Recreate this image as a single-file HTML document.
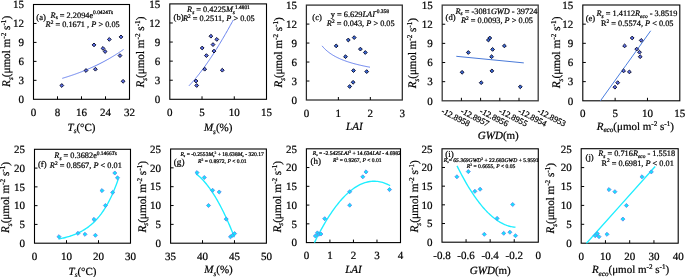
<!DOCTYPE html><html><head><meta charset="utf-8"><style>html,body{margin:0;padding:0;background:#fff;}svg{display:block;will-change:transform;}text{font-family:"Liberation Serif", serif;text-rendering:geometricPrecision;stroke:#000;stroke-width:0.22px;}</style></head><body>
<svg width="685" height="277" viewBox="0 0 685 277">
<rect width="685" height="277" fill="#fff"/>
<rect x="33.50" y="4.50" width="96.00" height="94.80" fill="none" stroke="#000" stroke-width="1.1"/>
<text x="24.00" y="103.10" font-size="11" text-anchor="end" fill="#000" ><tspan>0</tspan></text>
<line x1="33.50" y1="80.34" x2="36.50" y2="80.34" stroke="#000" stroke-width="1"/>
<text x="24.00" y="84.14" font-size="11" text-anchor="end" fill="#000" ><tspan>3</tspan></text>
<line x1="33.50" y1="61.38" x2="36.50" y2="61.38" stroke="#000" stroke-width="1"/>
<text x="24.00" y="65.18" font-size="11" text-anchor="end" fill="#000" ><tspan>6</tspan></text>
<line x1="33.50" y1="42.42" x2="36.50" y2="42.42" stroke="#000" stroke-width="1"/>
<text x="24.00" y="46.22" font-size="11" text-anchor="end" fill="#000" ><tspan>9</tspan></text>
<line x1="33.50" y1="23.46" x2="36.50" y2="23.46" stroke="#000" stroke-width="1"/>
<text x="24.00" y="27.26" font-size="11" text-anchor="end" fill="#000" ><tspan>12</tspan></text>
<text x="24.00" y="8.30" font-size="11" text-anchor="end" fill="#000" ><tspan>15</tspan></text>
<text x="33.50" y="115.80" font-size="11" text-anchor="middle" fill="#000" ><tspan>0</tspan></text>
<line x1="57.50" y1="99.30" x2="57.50" y2="96.30" stroke="#000" stroke-width="1"/>
<text x="57.50" y="115.80" font-size="11" text-anchor="middle" fill="#000" ><tspan>8</tspan></text>
<line x1="81.50" y1="99.30" x2="81.50" y2="96.30" stroke="#000" stroke-width="1"/>
<text x="81.50" y="115.80" font-size="11" text-anchor="middle" fill="#000" ><tspan>16</tspan></text>
<line x1="105.50" y1="99.30" x2="105.50" y2="96.30" stroke="#000" stroke-width="1"/>
<text x="105.50" y="115.80" font-size="11" text-anchor="middle" fill="#000" ><tspan>24</tspan></text>
<text x="129.50" y="115.80" font-size="11" text-anchor="middle" fill="#000" ><tspan>32</tspan></text>
<text x="10.10" y="86.90" font-size="11.5" text-anchor="start" fill="#000" transform="rotate(-90 10.10 86.90)" textLength="71.1" lengthAdjust="spacingAndGlyphs" ><tspan font-style="italic">R</tspan><tspan dy="2.53" font-style="italic" font-size="7.48">s</tspan><tspan dy="-2.53">(μmol&#160;m</tspan><tspan dy="-4.37" font-size="7.48">-2</tspan><tspan dy="4.37">&#160;s</tspan><tspan dy="-4.37" font-size="7.48">-1</tspan><tspan dy="4.37">)</tspan></text>
<rect x="169.80" y="3.90" width="96.70" height="95.40" fill="none" stroke="#000" stroke-width="1.1"/>
<text x="160.30" y="103.10" font-size="11" text-anchor="end" fill="#000" ><tspan>0</tspan></text>
<line x1="169.80" y1="80.22" x2="172.80" y2="80.22" stroke="#000" stroke-width="1"/>
<text x="160.30" y="84.02" font-size="11" text-anchor="end" fill="#000" ><tspan>3</tspan></text>
<line x1="169.80" y1="61.14" x2="172.80" y2="61.14" stroke="#000" stroke-width="1"/>
<text x="160.30" y="64.94" font-size="11" text-anchor="end" fill="#000" ><tspan>6</tspan></text>
<line x1="169.80" y1="42.06" x2="172.80" y2="42.06" stroke="#000" stroke-width="1"/>
<text x="160.30" y="45.86" font-size="11" text-anchor="end" fill="#000" ><tspan>9</tspan></text>
<line x1="169.80" y1="22.98" x2="172.80" y2="22.98" stroke="#000" stroke-width="1"/>
<text x="160.30" y="26.78" font-size="11" text-anchor="end" fill="#000" ><tspan>12</tspan></text>
<text x="160.30" y="7.70" font-size="11" text-anchor="end" fill="#000" ><tspan>15</tspan></text>
<text x="169.80" y="115.80" font-size="11" text-anchor="middle" fill="#000" ><tspan>0</tspan></text>
<line x1="202.03" y1="99.30" x2="202.03" y2="96.30" stroke="#000" stroke-width="1"/>
<text x="202.03" y="115.80" font-size="11" text-anchor="middle" fill="#000" ><tspan>5</tspan></text>
<line x1="234.27" y1="99.30" x2="234.27" y2="96.30" stroke="#000" stroke-width="1"/>
<text x="234.27" y="115.80" font-size="11" text-anchor="middle" fill="#000" ><tspan>10</tspan></text>
<text x="266.50" y="115.80" font-size="11" text-anchor="middle" fill="#000" ><tspan>15</tspan></text>
<text x="144.50" y="87.60" font-size="11.5" text-anchor="start" fill="#000" transform="rotate(-90 144.50 87.60)" textLength="71.0" lengthAdjust="spacingAndGlyphs" ><tspan font-style="italic">R</tspan><tspan dy="2.53" font-style="italic" font-size="7.48">s</tspan><tspan dy="-2.53">(μmol&#160;m</tspan><tspan dy="-4.37" font-size="7.48">-2</tspan><tspan dy="4.37">&#160;s</tspan><tspan dy="-4.37" font-size="7.48">-1</tspan><tspan dy="4.37">)</tspan></text>
<rect x="306.40" y="5.10" width="95.90" height="94.90" fill="none" stroke="#2a2a2a" stroke-width="1.25"/>
<text x="296.90" y="103.80" font-size="11" text-anchor="end" fill="#000" ><tspan>0</tspan></text>
<line x1="306.40" y1="81.02" x2="309.40" y2="81.02" stroke="#000" stroke-width="1"/>
<text x="296.90" y="84.82" font-size="11" text-anchor="end" fill="#000" ><tspan>3</tspan></text>
<line x1="306.40" y1="62.04" x2="309.40" y2="62.04" stroke="#000" stroke-width="1"/>
<text x="296.90" y="65.84" font-size="11" text-anchor="end" fill="#000" ><tspan>6</tspan></text>
<line x1="306.40" y1="43.06" x2="309.40" y2="43.06" stroke="#000" stroke-width="1"/>
<text x="296.90" y="46.86" font-size="11" text-anchor="end" fill="#000" ><tspan>9</tspan></text>
<line x1="306.40" y1="24.08" x2="309.40" y2="24.08" stroke="#000" stroke-width="1"/>
<text x="296.90" y="27.88" font-size="11" text-anchor="end" fill="#000" ><tspan>12</tspan></text>
<text x="296.90" y="8.90" font-size="11" text-anchor="end" fill="#000" ><tspan>15</tspan></text>
<text x="306.40" y="116.50" font-size="11" text-anchor="middle" fill="#000" ><tspan>0</tspan></text>
<line x1="338.37" y1="100.00" x2="338.37" y2="97.00" stroke="#000" stroke-width="1"/>
<text x="338.37" y="116.50" font-size="11" text-anchor="middle" fill="#000" ><tspan>1</tspan></text>
<line x1="370.33" y1="100.00" x2="370.33" y2="97.00" stroke="#000" stroke-width="1"/>
<text x="370.33" y="116.50" font-size="11" text-anchor="middle" fill="#000" ><tspan>2</tspan></text>
<text x="402.30" y="116.50" font-size="11" text-anchor="middle" fill="#000" ><tspan>3</tspan></text>
<text x="282.00" y="87.60" font-size="11.5" text-anchor="start" fill="#000" transform="rotate(-90 282.00 87.60)" textLength="70.3" lengthAdjust="spacingAndGlyphs" ><tspan font-style="italic">R</tspan><tspan dy="2.53" font-style="italic" font-size="7.48">s</tspan><tspan dy="-2.53">(μmol&#160;m</tspan><tspan dy="-4.37" font-size="7.48">-2</tspan><tspan dy="4.37">&#160;s</tspan><tspan dy="-4.37" font-size="7.48">-1</tspan><tspan dy="4.37">)</tspan></text>
<rect x="442.20" y="5.10" width="96.00" height="95.70" fill="none" stroke="#3a3a3a" stroke-width="1.3"/>
<text x="432.70" y="104.60" font-size="11" text-anchor="end" fill="#000" ><tspan>0</tspan></text>
<line x1="442.20" y1="81.66" x2="445.20" y2="81.66" stroke="#000" stroke-width="1"/>
<text x="432.70" y="85.46" font-size="11" text-anchor="end" fill="#000" ><tspan>3</tspan></text>
<line x1="442.20" y1="62.52" x2="445.20" y2="62.52" stroke="#000" stroke-width="1"/>
<text x="432.70" y="66.32" font-size="11" text-anchor="end" fill="#000" ><tspan>6</tspan></text>
<line x1="442.20" y1="43.38" x2="445.20" y2="43.38" stroke="#000" stroke-width="1"/>
<text x="432.70" y="47.18" font-size="11" text-anchor="end" fill="#000" ><tspan>9</tspan></text>
<line x1="442.20" y1="24.24" x2="445.20" y2="24.24" stroke="#000" stroke-width="1"/>
<text x="432.70" y="28.04" font-size="11" text-anchor="end" fill="#000" ><tspan>12</tspan></text>
<text x="432.70" y="8.90" font-size="11" text-anchor="end" fill="#000" ><tspan>15</tspan></text>
<line x1="461.40" y1="100.80" x2="461.40" y2="97.80" stroke="#000" stroke-width="1"/>
<line x1="480.60" y1="100.80" x2="480.60" y2="97.80" stroke="#000" stroke-width="1"/>
<line x1="499.80" y1="100.80" x2="499.80" y2="97.80" stroke="#000" stroke-width="1"/>
<line x1="519.00" y1="100.80" x2="519.00" y2="97.80" stroke="#000" stroke-width="1"/>
<text x="416.50" y="88.30" font-size="11.5" text-anchor="start" fill="#000" transform="rotate(-90 416.50 88.30)" textLength="70.3" lengthAdjust="spacingAndGlyphs" ><tspan font-style="italic">R</tspan><tspan dy="2.53" font-style="italic" font-size="7.48">s</tspan><tspan dy="-2.53">(μmol&#160;m</tspan><tspan dy="-4.37" font-size="7.48">-2</tspan><tspan dy="4.37">&#160;s</tspan><tspan dy="-4.37" font-size="7.48">-1</tspan><tspan dy="4.37">)</tspan></text>
<rect x="582.80" y="5.00" width="97.00" height="95.80" fill="none" stroke="#000" stroke-width="1.1"/>
<text x="573.30" y="104.60" font-size="11" text-anchor="end" fill="#000" ><tspan>0</tspan></text>
<line x1="582.80" y1="81.64" x2="585.80" y2="81.64" stroke="#000" stroke-width="1"/>
<text x="573.30" y="85.44" font-size="11" text-anchor="end" fill="#000" ><tspan>3</tspan></text>
<line x1="582.80" y1="62.48" x2="585.80" y2="62.48" stroke="#000" stroke-width="1"/>
<text x="573.30" y="66.28" font-size="11" text-anchor="end" fill="#000" ><tspan>6</tspan></text>
<line x1="582.80" y1="43.32" x2="585.80" y2="43.32" stroke="#000" stroke-width="1"/>
<text x="573.30" y="47.12" font-size="11" text-anchor="end" fill="#000" ><tspan>9</tspan></text>
<line x1="582.80" y1="24.16" x2="585.80" y2="24.16" stroke="#000" stroke-width="1"/>
<text x="573.30" y="27.96" font-size="11" text-anchor="end" fill="#000" ><tspan>12</tspan></text>
<text x="573.30" y="8.80" font-size="11" text-anchor="end" fill="#000" ><tspan>15</tspan></text>
<text x="582.80" y="117.30" font-size="11" text-anchor="middle" fill="#000" ><tspan>0</tspan></text>
<line x1="615.13" y1="100.80" x2="615.13" y2="97.80" stroke="#000" stroke-width="1"/>
<text x="615.13" y="117.30" font-size="11" text-anchor="middle" fill="#000" ><tspan>5</tspan></text>
<line x1="647.47" y1="100.80" x2="647.47" y2="97.80" stroke="#000" stroke-width="1"/>
<text x="647.47" y="117.30" font-size="11" text-anchor="middle" fill="#000" ><tspan>10</tspan></text>
<text x="679.80" y="117.30" font-size="11" text-anchor="middle" fill="#000" ><tspan>15</tspan></text>
<text x="560.20" y="88.30" font-size="11.5" text-anchor="start" fill="#000" transform="rotate(-90 560.20 88.30)" textLength="71.7" lengthAdjust="spacingAndGlyphs" ><tspan font-style="italic">R</tspan><tspan dy="2.53" font-style="italic" font-size="7.48">s</tspan><tspan dy="-2.53">(μmol&#160;m</tspan><tspan dy="-4.37" font-size="7.48">-2</tspan><tspan dy="4.37">&#160;s</tspan><tspan dy="-4.37" font-size="7.48">-1</tspan><tspan dy="4.37">)</tspan></text>
<rect x="34.50" y="149.30" width="96.00" height="93.90" fill="none" stroke="#000" stroke-width="1.1"/>
<text x="25.00" y="247.00" font-size="11" text-anchor="end" fill="#000" ><tspan>0</tspan></text>
<line x1="34.50" y1="224.42" x2="37.50" y2="224.42" stroke="#000" stroke-width="1"/>
<text x="25.00" y="228.22" font-size="11" text-anchor="end" fill="#000" ><tspan>5</tspan></text>
<line x1="34.50" y1="205.64" x2="37.50" y2="205.64" stroke="#000" stroke-width="1"/>
<text x="25.00" y="209.44" font-size="11" text-anchor="end" fill="#000" ><tspan>10</tspan></text>
<line x1="34.50" y1="186.86" x2="37.50" y2="186.86" stroke="#000" stroke-width="1"/>
<text x="25.00" y="190.66" font-size="11" text-anchor="end" fill="#000" ><tspan>15</tspan></text>
<line x1="34.50" y1="168.08" x2="37.50" y2="168.08" stroke="#000" stroke-width="1"/>
<text x="25.00" y="171.88" font-size="11" text-anchor="end" fill="#000" ><tspan>20</tspan></text>
<text x="25.00" y="153.10" font-size="11" text-anchor="end" fill="#000" ><tspan>25</tspan></text>
<text x="34.50" y="259.70" font-size="11" text-anchor="middle" fill="#000" ><tspan>0</tspan></text>
<line x1="66.50" y1="243.20" x2="66.50" y2="240.20" stroke="#000" stroke-width="1"/>
<text x="66.50" y="259.70" font-size="11" text-anchor="middle" fill="#000" ><tspan>10</tspan></text>
<line x1="98.50" y1="243.20" x2="98.50" y2="240.20" stroke="#000" stroke-width="1"/>
<text x="98.50" y="259.70" font-size="11" text-anchor="middle" fill="#000" ><tspan>20</tspan></text>
<text x="130.50" y="259.70" font-size="11" text-anchor="middle" fill="#000" ><tspan>30</tspan></text>
<text x="9.40" y="233.00" font-size="11.5" text-anchor="start" fill="#000" transform="rotate(-90 9.40 233.00)" textLength="71" lengthAdjust="spacingAndGlyphs" ><tspan font-style="italic">R</tspan><tspan dy="2.53" font-style="italic" font-size="7.48">s</tspan><tspan dy="-2.53">(μmol&#160;m</tspan><tspan dy="-4.37" font-size="7.48">-2</tspan><tspan dy="4.37">&#160;s</tspan><tspan dy="-4.37" font-size="7.48">-1</tspan><tspan dy="4.37">)</tspan></text>
<rect x="170.60" y="149.00" width="95.80" height="94.20" fill="none" stroke="#000" stroke-width="1.1"/>
<text x="161.10" y="247.00" font-size="11" text-anchor="end" fill="#000" ><tspan>0</tspan></text>
<line x1="170.60" y1="224.36" x2="173.60" y2="224.36" stroke="#000" stroke-width="1"/>
<text x="161.10" y="228.16" font-size="11" text-anchor="end" fill="#000" ><tspan>5</tspan></text>
<line x1="170.60" y1="205.52" x2="173.60" y2="205.52" stroke="#000" stroke-width="1"/>
<text x="161.10" y="209.32" font-size="11" text-anchor="end" fill="#000" ><tspan>10</tspan></text>
<line x1="170.60" y1="186.68" x2="173.60" y2="186.68" stroke="#000" stroke-width="1"/>
<text x="161.10" y="190.48" font-size="11" text-anchor="end" fill="#000" ><tspan>15</tspan></text>
<line x1="170.60" y1="167.84" x2="173.60" y2="167.84" stroke="#000" stroke-width="1"/>
<text x="161.10" y="171.64" font-size="11" text-anchor="end" fill="#000" ><tspan>20</tspan></text>
<text x="161.10" y="152.80" font-size="11" text-anchor="end" fill="#000" ><tspan>25</tspan></text>
<text x="170.60" y="259.70" font-size="11" text-anchor="middle" fill="#000" ><tspan>35</tspan></text>
<line x1="202.53" y1="243.20" x2="202.53" y2="240.20" stroke="#000" stroke-width="1"/>
<text x="202.53" y="259.70" font-size="11" text-anchor="middle" fill="#000" ><tspan>40</tspan></text>
<line x1="234.47" y1="243.20" x2="234.47" y2="240.20" stroke="#000" stroke-width="1"/>
<text x="234.47" y="259.70" font-size="11" text-anchor="middle" fill="#000" ><tspan>45</tspan></text>
<text x="266.40" y="259.70" font-size="11" text-anchor="middle" fill="#000" ><tspan>50</tspan></text>
<text x="145.90" y="232.60" font-size="11.5" text-anchor="start" fill="#000" transform="rotate(-90 145.90 232.60)" textLength="71.7" lengthAdjust="spacingAndGlyphs" ><tspan font-style="italic">R</tspan><tspan dy="2.53" font-style="italic" font-size="7.48">s</tspan><tspan dy="-2.53">(μmol&#160;m</tspan><tspan dy="-4.37" font-size="7.48">-2</tspan><tspan dy="4.37">&#160;s</tspan><tspan dy="-4.37" font-size="7.48">-1</tspan><tspan dy="4.37">)</tspan></text>
<rect x="306.40" y="148.80" width="94.10" height="93.80" fill="none" stroke="#000" stroke-width="1.1"/>
<text x="296.90" y="246.40" font-size="11" text-anchor="end" fill="#000" ><tspan>0</tspan></text>
<line x1="306.40" y1="223.84" x2="309.40" y2="223.84" stroke="#000" stroke-width="1"/>
<text x="296.90" y="227.64" font-size="11" text-anchor="end" fill="#000" ><tspan>5</tspan></text>
<line x1="306.40" y1="205.08" x2="309.40" y2="205.08" stroke="#000" stroke-width="1"/>
<text x="296.90" y="208.88" font-size="11" text-anchor="end" fill="#000" ><tspan>10</tspan></text>
<line x1="306.40" y1="186.32" x2="309.40" y2="186.32" stroke="#000" stroke-width="1"/>
<text x="296.90" y="190.12" font-size="11" text-anchor="end" fill="#000" ><tspan>15</tspan></text>
<line x1="306.40" y1="167.56" x2="309.40" y2="167.56" stroke="#000" stroke-width="1"/>
<text x="296.90" y="171.36" font-size="11" text-anchor="end" fill="#000" ><tspan>20</tspan></text>
<text x="296.90" y="152.60" font-size="11" text-anchor="end" fill="#000" ><tspan>25</tspan></text>
<text x="306.40" y="259.10" font-size="11" text-anchor="middle" fill="#000" ><tspan>0</tspan></text>
<line x1="329.92" y1="242.60" x2="329.92" y2="239.60" stroke="#000" stroke-width="1"/>
<text x="329.92" y="259.10" font-size="11" text-anchor="middle" fill="#000" ><tspan>1</tspan></text>
<line x1="353.45" y1="242.60" x2="353.45" y2="239.60" stroke="#000" stroke-width="1"/>
<text x="353.45" y="259.10" font-size="11" text-anchor="middle" fill="#000" ><tspan>2</tspan></text>
<line x1="376.98" y1="242.60" x2="376.98" y2="239.60" stroke="#000" stroke-width="1"/>
<text x="376.98" y="259.10" font-size="11" text-anchor="middle" fill="#000" ><tspan>3</tspan></text>
<text x="400.50" y="259.10" font-size="11" text-anchor="middle" fill="#000" ><tspan>4</tspan></text>
<text x="280.90" y="232.60" font-size="11.5" text-anchor="start" fill="#000" transform="rotate(-90 280.90 232.60)" textLength="71.7" lengthAdjust="spacingAndGlyphs" ><tspan font-style="italic">R</tspan><tspan dy="2.53" font-style="italic" font-size="7.48">s</tspan><tspan dy="-2.53">(μmol&#160;m</tspan><tspan dy="-4.37" font-size="7.48">-2</tspan><tspan dy="4.37">&#160;s</tspan><tspan dy="-4.37" font-size="7.48">-1</tspan><tspan dy="4.37">)</tspan></text>
<rect x="442.00" y="148.80" width="96.30" height="93.40" fill="none" stroke="#000" stroke-width="1.1"/>
<text x="432.50" y="246.00" font-size="11" text-anchor="end" fill="#000" ><tspan>0</tspan></text>
<line x1="442.00" y1="223.52" x2="445.00" y2="223.52" stroke="#000" stroke-width="1"/>
<text x="432.50" y="227.32" font-size="11" text-anchor="end" fill="#000" ><tspan>5</tspan></text>
<line x1="442.00" y1="204.84" x2="445.00" y2="204.84" stroke="#000" stroke-width="1"/>
<text x="432.50" y="208.64" font-size="11" text-anchor="end" fill="#000" ><tspan>10</tspan></text>
<line x1="442.00" y1="186.16" x2="445.00" y2="186.16" stroke="#000" stroke-width="1"/>
<text x="432.50" y="189.96" font-size="11" text-anchor="end" fill="#000" ><tspan>15</tspan></text>
<line x1="442.00" y1="167.48" x2="445.00" y2="167.48" stroke="#000" stroke-width="1"/>
<text x="432.50" y="171.28" font-size="11" text-anchor="end" fill="#000" ><tspan>20</tspan></text>
<text x="432.50" y="152.60" font-size="11" text-anchor="end" fill="#000" ><tspan>25</tspan></text>
<text x="442.00" y="258.70" font-size="11" text-anchor="middle" fill="#000" ><tspan>-0.8</tspan></text>
<line x1="466.07" y1="242.20" x2="466.07" y2="239.20" stroke="#000" stroke-width="1"/>
<text x="466.07" y="258.70" font-size="11" text-anchor="middle" fill="#000" ><tspan>-0.6</tspan></text>
<line x1="490.15" y1="242.20" x2="490.15" y2="239.20" stroke="#000" stroke-width="1"/>
<text x="490.15" y="258.70" font-size="11" text-anchor="middle" fill="#000" ><tspan>-0.4</tspan></text>
<line x1="514.23" y1="242.20" x2="514.23" y2="239.20" stroke="#000" stroke-width="1"/>
<text x="514.23" y="258.70" font-size="11" text-anchor="middle" fill="#000" ><tspan>-0.2</tspan></text>
<text x="538.30" y="258.70" font-size="11" text-anchor="middle" fill="#000" ><tspan>0</tspan></text>
<text x="418.00" y="232.60" font-size="11.5" text-anchor="start" fill="#000" transform="rotate(-90 418.00 232.60)" textLength="72.5" lengthAdjust="spacingAndGlyphs" ><tspan font-style="italic">R</tspan><tspan dy="2.53" font-style="italic" font-size="7.48">s</tspan><tspan dy="-2.53">(μmol&#160;m</tspan><tspan dy="-4.37" font-size="7.48">-2</tspan><tspan dy="4.37">&#160;s</tspan><tspan dy="-4.37" font-size="7.48">-1</tspan><tspan dy="4.37">)</tspan></text>
<rect x="581.20" y="148.70" width="97.00" height="94.50" fill="none" stroke="#000" stroke-width="1.1"/>
<text x="571.70" y="247.00" font-size="11" text-anchor="end" fill="#000" ><tspan>0</tspan></text>
<line x1="581.20" y1="224.30" x2="584.20" y2="224.30" stroke="#000" stroke-width="1"/>
<text x="571.70" y="228.10" font-size="11" text-anchor="end" fill="#000" ><tspan>5</tspan></text>
<line x1="581.20" y1="205.40" x2="584.20" y2="205.40" stroke="#000" stroke-width="1"/>
<text x="571.70" y="209.20" font-size="11" text-anchor="end" fill="#000" ><tspan>10</tspan></text>
<line x1="581.20" y1="186.50" x2="584.20" y2="186.50" stroke="#000" stroke-width="1"/>
<text x="571.70" y="190.30" font-size="11" text-anchor="end" fill="#000" ><tspan>15</tspan></text>
<line x1="581.20" y1="167.60" x2="584.20" y2="167.60" stroke="#000" stroke-width="1"/>
<text x="571.70" y="171.40" font-size="11" text-anchor="end" fill="#000" ><tspan>20</tspan></text>
<text x="571.70" y="152.50" font-size="11" text-anchor="end" fill="#000" ><tspan>25</tspan></text>
<text x="581.20" y="259.70" font-size="11" text-anchor="middle" fill="#000" ><tspan>0</tspan></text>
<line x1="605.45" y1="243.20" x2="605.45" y2="240.20" stroke="#000" stroke-width="1"/>
<text x="605.45" y="259.70" font-size="11" text-anchor="middle" fill="#000" ><tspan>10</tspan></text>
<line x1="629.70" y1="243.20" x2="629.70" y2="240.20" stroke="#000" stroke-width="1"/>
<text x="629.70" y="259.70" font-size="11" text-anchor="middle" fill="#000" ><tspan>20</tspan></text>
<line x1="653.95" y1="243.20" x2="653.95" y2="240.20" stroke="#000" stroke-width="1"/>
<text x="653.95" y="259.70" font-size="11" text-anchor="middle" fill="#000" ><tspan>30</tspan></text>
<text x="678.20" y="259.70" font-size="11" text-anchor="middle" fill="#000" ><tspan>40</tspan></text>
<text x="554.40" y="233.60" font-size="11.5" text-anchor="start" fill="#000" transform="rotate(-90 554.40 233.60)" textLength="70.6" lengthAdjust="spacingAndGlyphs" ><tspan font-style="italic">R</tspan><tspan dy="2.53" font-style="italic" font-size="7.48">s</tspan><tspan dy="-2.53">(μmol&#160;m</tspan><tspan dy="-4.37" font-size="7.48">-2</tspan><tspan dy="4.37">&#160;s</tspan><tspan dy="-4.37" font-size="7.48">-1</tspan><tspan dy="4.37">)</tspan></text>
<polyline points="62.30,78.32 63.32,78.02 64.34,77.71 65.36,77.39 66.38,77.08 67.40,76.75 68.42,76.43 69.44,76.09 70.46,75.76 71.48,75.42 72.50,75.07 73.52,74.72 74.54,74.36 75.56,74.00 76.58,73.63 77.60,73.26 78.62,72.88 79.64,72.50 80.66,72.11 81.68,71.71 82.70,71.31 83.72,70.90 84.74,70.49 85.76,70.07 86.78,69.65 87.80,69.22 88.82,68.78 89.84,68.34 90.86,67.89 91.88,67.43 92.90,66.97 93.92,66.50 94.94,66.03 95.96,65.54 96.98,65.05 98.00,64.55 99.02,64.05 100.04,63.54 101.06,63.02 102.08,62.49 103.10,61.96 104.12,61.42 105.14,60.87 106.16,60.31 107.18,59.74 108.20,59.17 109.22,58.58 110.24,57.99 111.26,57.39 112.28,56.78 113.30,56.17 114.32,55.54 115.34,54.91 116.36,54.26 117.38,53.61 118.40,52.94 119.42,52.27 120.44,51.59 121.46,50.89 122.48,50.19 123.50,49.48" fill="none" stroke="#6680ee" stroke-width="1"/>
<path d="M61.80 83.60L63.70 85.50L61.80 87.40L59.90 85.50Z" fill="#5b6ee6" stroke="#121535" stroke-width="1.0"/>
<path d="M86.00 68.60L87.90 70.50L86.00 72.40L84.10 70.50Z" fill="#5b6ee6" stroke="#121535" stroke-width="1.0"/>
<path d="M95.40 67.30L97.30 69.20L95.40 71.10L93.50 69.20Z" fill="#5b6ee6" stroke="#121535" stroke-width="1.0"/>
<path d="M94.00 43.00L95.90 44.90L94.00 46.80L92.10 44.90Z" fill="#5b6ee6" stroke="#121535" stroke-width="1.0"/>
<path d="M103.00 46.50L104.90 48.40L103.00 50.30L101.10 48.40Z" fill="#5b6ee6" stroke="#121535" stroke-width="1.0"/>
<path d="M105.10 49.60L107.00 51.50L105.10 53.40L103.20 51.50Z" fill="#5b6ee6" stroke="#121535" stroke-width="1.0"/>
<path d="M109.30 37.50L111.20 39.40L109.30 41.30L107.40 39.40Z" fill="#5b6ee6" stroke="#121535" stroke-width="1.0"/>
<path d="M121.00 35.00L122.90 36.90L121.00 38.80L119.10 36.90Z" fill="#5b6ee6" stroke="#121535" stroke-width="1.0"/>
<path d="M120.00 53.70L121.90 55.60L120.00 57.50L118.10 55.60Z" fill="#5b6ee6" stroke="#121535" stroke-width="1.0"/>
<path d="M123.10 79.40L125.00 81.30L123.10 83.20L121.20 81.30Z" fill="#5b6ee6" stroke="#121535" stroke-width="1.0"/>
<text x="36.30" y="19.80" font-size="8.6" text-anchor="start" fill="#000" ><tspan>(a)</tspan></text>
<text x="50.60" y="17.60" font-size="8.3" text-anchor="start" fill="#000" ><tspan font-style="italic">R</tspan><tspan dy="1.83" font-size="5.40">s</tspan><tspan dy="-1.83">&#160;=&#160;2.2094e</tspan><tspan dy="-3.15" font-size="5.40">0.0424</tspan><tspan font-style="italic" font-size="5.40">T</tspan><tspan font-size="5.40">s</tspan></text>
<text x="45.60" y="27.10" font-size="8.3" text-anchor="start" fill="#000" ><tspan font-style="italic">R</tspan><tspan dy="-3.15" font-size="5.40">2</tspan><tspan dy="3.15">&#160;=&#160;0.1671&#160;,&#160;</tspan><tspan font-style="italic">P</tspan><tspan>&#160;&gt;&#160;0.05</tspan></text>
<text x="81.50" y="130.90" font-size="11" text-anchor="middle" fill="#000" ><tspan font-style="italic">T</tspan><tspan dy="2.42" font-style="italic" font-size="7.15">s</tspan><tspan dy="-2.42">(°C)</tspan></text>
<polyline points="188.95,85.84 189.68,85.07 190.42,84.28 191.16,83.47 191.90,82.66 192.64,81.83 193.38,80.99 194.11,80.13 194.85,79.26 195.59,78.38 196.33,77.49 197.07,76.59 197.80,75.67 198.54,74.74 199.28,73.81 200.02,72.85 200.76,71.89 201.50,70.92 202.23,69.94 202.97,68.94 203.71,67.94 204.45,66.92 205.19,65.90 205.92,64.86 206.66,63.81 207.40,62.76 208.14,61.69 208.88,60.61 209.61,59.53 210.35,58.43 211.09,57.32 211.83,56.21 212.57,55.08 213.31,53.95 214.04,52.80 214.78,51.65 215.52,50.49 216.26,49.32 217.00,48.14 217.73,46.95 218.47,45.75 219.21,44.55 219.95,43.33 220.69,42.11 221.42,40.88 222.16,39.64 222.90,38.39 223.64,37.13 224.38,35.86 225.12,34.59 225.85,33.31 226.59,32.02 227.33,30.72 228.07,29.41 228.81,28.10 229.54,26.78 230.28,25.45 231.02,24.11 231.76,22.76 232.50,21.41 233.24,20.05" fill="none" stroke="#6680ee" stroke-width="1"/>
<path d="M196.00 79.10L197.90 81.00L196.00 82.90L194.10 81.00Z" fill="#5b6ee6" stroke="#121535" stroke-width="1.0"/>
<path d="M196.70 83.60L198.60 85.50L196.70 87.40L194.80 85.50Z" fill="#5b6ee6" stroke="#121535" stroke-width="1.0"/>
<path d="M204.70 67.30L206.60 69.20L204.70 71.10L202.80 69.20Z" fill="#5b6ee6" stroke="#121535" stroke-width="1.0"/>
<path d="M202.20 46.10L204.10 48.00L202.20 49.90L200.30 48.00Z" fill="#5b6ee6" stroke="#121535" stroke-width="1.0"/>
<path d="M206.40 53.70L208.30 55.60L206.40 57.50L204.50 55.60Z" fill="#5b6ee6" stroke="#121535" stroke-width="1.0"/>
<path d="M210.90 34.30L212.80 36.20L210.90 38.10L209.00 36.20Z" fill="#5b6ee6" stroke="#121535" stroke-width="1.0"/>
<path d="M213.00 42.70L214.90 44.60L213.00 46.50L211.10 44.60Z" fill="#5b6ee6" stroke="#121535" stroke-width="1.0"/>
<path d="M216.80 37.50L218.70 39.40L216.80 41.30L214.90 39.40Z" fill="#5b6ee6" stroke="#121535" stroke-width="1.0"/>
<path d="M214.00 49.20L215.90 51.10L214.00 53.00L212.10 51.10Z" fill="#5b6ee6" stroke="#121535" stroke-width="1.0"/>
<path d="M222.30 68.30L224.20 70.20L222.30 72.10L220.40 70.20Z" fill="#5b6ee6" stroke="#121535" stroke-width="1.0"/>
<text x="187.10" y="12.10" font-size="8.3" text-anchor="start" fill="#000" ><tspan font-style="italic">R</tspan><tspan dy="1.83" font-style="italic" font-size="5.40">s</tspan><tspan dy="-1.83">&#160;=&#160;0.4225</tspan><tspan font-style="italic">M</tspan><tspan dy="1.83" font-style="italic" font-size="5.40">s</tspan><tspan dy="-4.98" font-size="5.40">1.4801</tspan></text>
<text x="173.60" y="19.60" font-size="8.6" text-anchor="start" fill="#000" ><tspan>(b)</tspan></text>
<text x="183.00" y="21.10" font-size="8.3" text-anchor="start" fill="#000" ><tspan font-style="italic">R</tspan><tspan dy="-3.15" font-size="5.40">2</tspan><tspan dy="3.15">&#160;=&#160;0.2511,&#160;</tspan><tspan font-style="italic">P</tspan><tspan>&#160;&gt;&#160;0.05</tspan></text>
<text x="218.15" y="131.30" font-size="11" text-anchor="middle" fill="#000" ><tspan font-style="italic">M</tspan><tspan dy="2.42" font-style="italic" font-size="7.15">s</tspan><tspan dy="-2.42">(%)</tspan></text>
<polyline points="322.06,45.86 322.86,46.81 323.66,47.71 324.46,48.55 325.26,49.34 326.06,50.09 326.86,50.79 327.66,51.47 328.46,52.10 329.26,52.71 330.06,53.29 330.85,53.84 331.65,54.37 332.45,54.87 333.25,55.36 334.05,55.83 334.85,56.27 335.65,56.71 336.45,57.12 337.25,57.52 338.05,57.91 338.85,58.28 339.65,58.65 340.44,59.00 341.24,59.33 342.04,59.66 342.84,59.98 343.64,60.29 344.44,60.59 345.24,60.88 346.04,61.17 346.84,61.45 347.64,61.71 348.44,61.98 349.24,62.23 350.03,62.48 350.83,62.72 351.63,62.96 352.43,63.19 353.23,63.42 354.03,63.64 354.83,63.86 355.63,64.07 356.43,64.27 357.23,64.48 358.03,64.67 358.83,64.87 359.62,65.06 360.42,65.24 361.22,65.43 362.02,65.60 362.82,65.78 363.62,65.95 364.42,66.12 365.22,66.29 366.02,66.45 366.82,66.61 367.62,66.76 368.42,66.92 369.21,67.07 370.01,67.22" fill="none" stroke="#6680ee" stroke-width="1"/>
<path d="M336.20 44.00L338.10 45.90L336.20 47.80L334.30 45.90Z" fill="#3a6ad8" stroke="#121535" stroke-width="1.0"/>
<path d="M348.30 38.10L350.20 40.00L348.30 41.90L346.40 40.00Z" fill="#3a6ad8" stroke="#121535" stroke-width="1.0"/>
<path d="M354.20 35.70L356.10 37.60L354.20 39.50L352.30 37.60Z" fill="#3a6ad8" stroke="#121535" stroke-width="1.0"/>
<path d="M360.40 47.20L362.30 49.10L360.40 51.00L358.50 49.10Z" fill="#3a6ad8" stroke="#121535" stroke-width="1.0"/>
<path d="M365.30 50.60L367.20 52.50L365.30 54.40L363.40 52.50Z" fill="#3a6ad8" stroke="#121535" stroke-width="1.0"/>
<path d="M345.50 54.80L347.40 56.70L345.50 58.60L343.60 56.70Z" fill="#3a6ad8" stroke="#121535" stroke-width="1.0"/>
<path d="M353.50 68.70L355.40 70.60L353.50 72.50L351.60 70.60Z" fill="#3a6ad8" stroke="#121535" stroke-width="1.0"/>
<path d="M366.70 69.70L368.60 71.60L366.70 73.50L364.80 71.60Z" fill="#3a6ad8" stroke="#121535" stroke-width="1.0"/>
<path d="M353.10 80.40L355.00 82.30L353.10 84.20L351.20 82.30Z" fill="#3a6ad8" stroke="#121535" stroke-width="1.0"/>
<path d="M349.70 84.60L351.60 86.50L349.70 88.40L347.80 86.50Z" fill="#3a6ad8" stroke="#121535" stroke-width="1.0"/>
<text x="312.30" y="19.60" font-size="8.6" text-anchor="start" fill="#000" ><tspan>(c)</tspan></text>
<text x="330.80" y="16.60" font-size="8.3" text-anchor="start" fill="#000" ><tspan>y&#160;=&#160;6.629</tspan><tspan font-style="italic">LAI</tspan><tspan dy="-3.15" font-size="5.40">-0.358</tspan></text>
<text x="326.80" y="26.10" font-size="8.3" text-anchor="start" fill="#000" ><tspan font-style="italic">R</tspan><tspan dy="-3.15" font-size="5.40">2</tspan><tspan dy="3.15">&#160;=&#160;0.043,&#160;</tspan><tspan font-style="italic">P</tspan><tspan>&#160;&gt;&#160;0.05</tspan></text>
<text x="354.35" y="130.40" font-size="11" text-anchor="middle" fill="#000" ><tspan font-style="italic">LAI</tspan></text>
<line x1="456.3" y1="56.3" x2="523.8" y2="62.9" stroke="#4a7ad8" stroke-width="1"/>
<path d="M462.10 70.40L464.00 72.30L462.10 74.20L460.20 72.30Z" fill="#3a6ad8" stroke="#121535" stroke-width="1.0"/>
<path d="M468.30 50.60L470.20 52.50L468.30 54.40L466.40 52.50Z" fill="#3a6ad8" stroke="#121535" stroke-width="1.0"/>
<path d="M481.20 80.80L483.10 82.70L481.20 84.60L479.30 82.70Z" fill="#3a6ad8" stroke="#121535" stroke-width="1.0"/>
<path d="M488.40 38.10L490.30 40.00L488.40 41.90L486.50 40.00Z" fill="#3a6ad8" stroke="#121535" stroke-width="1.0"/>
<path d="M489.80 36.10L491.70 38.00L489.80 39.90L487.90 38.00Z" fill="#3a6ad8" stroke="#121535" stroke-width="1.0"/>
<path d="M492.60 47.50L494.50 49.40L492.60 51.30L490.70 49.40Z" fill="#3a6ad8" stroke="#121535" stroke-width="1.0"/>
<path d="M491.60 54.80L493.50 56.70L491.60 58.60L489.70 56.70Z" fill="#3a6ad8" stroke="#121535" stroke-width="1.0"/>
<path d="M491.90 69.00L493.80 70.90L491.90 72.80L490.00 70.90Z" fill="#3a6ad8" stroke="#121535" stroke-width="1.0"/>
<path d="M504.40 44.00L506.30 45.90L504.40 47.80L502.50 45.90Z" fill="#3a6ad8" stroke="#121535" stroke-width="1.0"/>
<path d="M520.30 84.90L522.20 86.80L520.30 88.70L518.40 86.80Z" fill="#3a6ad8" stroke="#121535" stroke-width="1.0"/>
<text x="445.60" y="20.20" font-size="8.6" text-anchor="start" fill="#000" ><tspan>(d)</tspan></text>
<text x="455.50" y="13.50" font-size="8.3" text-anchor="start" fill="#000" ><tspan font-style="italic">R</tspan><tspan dy="1.83" font-style="italic" font-size="5.40">s</tspan><tspan dy="-1.83">&#160;=&#160;-3081</tspan><tspan font-style="italic">GWD</tspan><tspan>&#160;-&#160;39724</tspan></text>
<text x="461.00" y="23.40" font-size="8.3" text-anchor="start" fill="#000" ><tspan font-style="italic">R</tspan><tspan dy="-3.15" font-size="5.40">2</tspan><tspan dy="3.15">&#160;=&#160;0.0093,&#160;</tspan><tspan font-style="italic">P</tspan><tspan>&#160;&gt;&#160;0.05</tspan></text>
<text x="440.70" y="112.80" font-size="8.6" text-anchor="start" fill="#000" transform="rotate(27 440.70 112.80)" ><tspan>-12.8958</tspan></text>
<text x="459.90" y="112.80" font-size="8.6" text-anchor="start" fill="#000" transform="rotate(27 459.90 112.80)" ><tspan>-12.8957</tspan></text>
<text x="479.10" y="112.80" font-size="8.6" text-anchor="start" fill="#000" transform="rotate(27 479.10 112.80)" ><tspan>-12.8956</tspan></text>
<text x="498.30" y="112.80" font-size="8.6" text-anchor="start" fill="#000" transform="rotate(27 498.30 112.80)" ><tspan>-12.8955</tspan></text>
<text x="517.50" y="112.80" font-size="8.6" text-anchor="start" fill="#000" transform="rotate(27 517.50 112.80)" ><tspan>-12.8954</tspan></text>
<text x="536.70" y="112.80" font-size="8.6" text-anchor="start" fill="#000" transform="rotate(27 536.70 112.80)" ><tspan>-12.8953</tspan></text>
<text x="498.30" y="138.90" font-size="11" text-anchor="middle" fill="#000" ><tspan font-style="italic">GWD</tspan><tspan>(m)</tspan></text>
<polyline points="600.45,100.80 625.58,65.78 650.70,30.77" fill="none" stroke="#4a7ee0" stroke-width="1"/>
<path d="M614.90 85.30L616.80 87.20L614.90 89.10L613.00 87.20Z" fill="#5b6ee6" stroke="#121535" stroke-width="1.0"/>
<path d="M617.70 80.80L619.60 82.70L617.70 84.60L615.80 82.70Z" fill="#5b6ee6" stroke="#121535" stroke-width="1.0"/>
<path d="M623.60 69.00L625.50 70.90L623.60 72.80L621.70 70.90Z" fill="#5b6ee6" stroke="#121535" stroke-width="1.0"/>
<path d="M629.40 70.00L631.30 71.90L629.40 73.80L627.50 71.90Z" fill="#5b6ee6" stroke="#121535" stroke-width="1.0"/>
<path d="M624.60 44.00L626.50 45.90L624.60 47.80L622.70 45.90Z" fill="#5b6ee6" stroke="#121535" stroke-width="1.0"/>
<path d="M632.20 36.10L634.10 38.00L632.20 39.90L630.30 38.00Z" fill="#5b6ee6" stroke="#121535" stroke-width="1.0"/>
<path d="M636.70 47.20L638.60 49.10L636.70 51.00L634.80 49.10Z" fill="#5b6ee6" stroke="#121535" stroke-width="1.0"/>
<path d="M639.50 50.30L641.40 52.20L639.50 54.10L637.60 52.20Z" fill="#5b6ee6" stroke="#121535" stroke-width="1.0"/>
<path d="M640.20 54.80L642.10 56.70L640.20 58.60L638.30 56.70Z" fill="#5b6ee6" stroke="#121535" stroke-width="1.0"/>
<path d="M641.20 38.50L643.10 40.40L641.20 42.30L639.30 40.40Z" fill="#5b6ee6" stroke="#121535" stroke-width="1.0"/>
<text x="585.70" y="20.60" font-size="8.6" text-anchor="start" fill="#000" ><tspan>(e)</tspan></text>
<text x="596.50" y="15.70" font-size="8.3" text-anchor="start" fill="#000" ><tspan font-style="italic">R</tspan><tspan dy="1.83" font-style="italic" font-size="5.40">s</tspan><tspan dy="-1.83">&#160;=&#160;1.4112</tspan><tspan font-style="italic">R</tspan><tspan dy="1.83" font-style="italic" font-size="5.40">eco</tspan><tspan dy="-1.83">&#160;-&#160;3.8519</tspan></text>
<text x="601.00" y="25.70" font-size="8.3" text-anchor="start" fill="#000" ><tspan>R</tspan><tspan dy="-3.15" font-size="5.40">2</tspan><tspan dy="3.15">&#160;=&#160;0.5574,&#160;</tspan><tspan font-style="italic">P</tspan><tspan>&#160;&lt;&#160;0.05</tspan></text>
<text x="635.30" y="130.00" font-size="11" text-anchor="middle" fill="#000" ><tspan font-style="italic">R</tspan><tspan dy="2.42" font-style="italic" font-size="7.15">eco</tspan><tspan dy="-2.42">(μmol&#160;m</tspan><tspan dy="-4.18" font-size="7.15">-2</tspan><tspan dy="4.18">&#160;s</tspan><tspan dy="-4.18" font-size="7.15">-1</tspan><tspan dy="4.18">)</tspan></text>
<polyline points="58.50,239.05 59.50,238.85 60.49,238.65 61.49,238.44 62.49,238.21 63.49,237.98 64.48,237.74 65.48,237.48 66.48,237.22 67.48,236.94 68.47,236.64 69.47,236.34 70.47,236.01 71.47,235.68 72.46,235.33 73.46,234.96 74.46,234.57 75.45,234.17 76.45,233.75 77.45,233.31 78.45,232.84 79.44,232.36 80.44,231.85 81.44,231.32 82.44,230.77 83.43,230.19 84.43,229.58 85.43,228.94 86.43,228.27 87.42,227.58 88.42,226.85 89.42,226.08 90.41,225.28 91.41,224.44 92.41,223.57 93.41,222.65 94.40,221.69 95.40,220.68 96.40,219.63 97.40,218.53 98.39,217.38 99.39,216.17 100.39,214.90 101.39,213.58 102.38,212.20 103.38,210.75 104.38,209.23 105.37,207.64 106.37,205.98 107.37,204.24 108.37,202.42 109.36,200.51 110.36,198.52 111.36,196.43 112.36,194.24 113.35,191.95 114.35,189.56 115.35,187.05 116.35,184.42 117.34,181.67 118.34,178.80" fill="none" stroke="#1eeeff" stroke-width="1.35"/>
<path d="M59.00 234.65L61.05 236.70L59.00 238.75L56.95 236.70Z" fill="#10e6fc" stroke="#5a7cee" stroke-width="0.75"/>
<path d="M78.00 231.25L80.05 233.30L78.00 235.35L75.95 233.30Z" fill="#10e6fc" stroke="#5a7cee" stroke-width="0.75"/>
<path d="M85.00 232.25L87.05 234.30L85.00 236.35L82.95 234.30Z" fill="#10e6fc" stroke="#5a7cee" stroke-width="0.75"/>
<path d="M95.40 233.25L97.45 235.30L95.40 237.35L93.35 235.30Z" fill="#10e6fc" stroke="#5a7cee" stroke-width="0.75"/>
<path d="M94.00 217.35L96.05 219.40L94.00 221.45L91.95 219.40Z" fill="#10e6fc" stroke="#5a7cee" stroke-width="0.75"/>
<path d="M105.40 203.45L107.45 205.50L105.40 207.55L103.35 205.50Z" fill="#10e6fc" stroke="#5a7cee" stroke-width="0.75"/>
<path d="M102.00 188.55L104.05 190.60L102.00 192.65L99.95 190.60Z" fill="#10e6fc" stroke="#5a7cee" stroke-width="0.75"/>
<path d="M112.70 190.35L114.75 192.40L112.70 194.45L110.65 192.40Z" fill="#10e6fc" stroke="#5a7cee" stroke-width="0.75"/>
<path d="M114.80 170.95L116.85 173.00L114.80 175.05L112.75 173.00Z" fill="#10e6fc" stroke="#5a7cee" stroke-width="0.75"/>
<path d="M117.50 175.75L119.55 177.80L117.50 179.85L115.45 177.80Z" fill="#10e6fc" stroke="#5a7cee" stroke-width="0.75"/>
<text x="54.30" y="158.40" font-size="8.3" text-anchor="start" fill="#000" ><tspan font-style="italic">R</tspan><tspan dy="1.83" font-style="italic" font-size="5.40">s</tspan><tspan dy="-1.83">&#160;=&#160;0.3682e</tspan><tspan dy="-3.15" font-size="5.40">0.1466</tspan><tspan font-style="italic" font-size="5.40">T</tspan><tspan font-size="5.40">s</tspan></text>
<text x="38.00" y="167.20" font-size="8.6" text-anchor="start" fill="#000" ><tspan>(f)</tspan></text>
<text x="49.80" y="168.00" font-size="8.3" text-anchor="start" fill="#000" ><tspan font-style="italic">R</tspan><tspan dy="-3.15" font-size="5.40">2</tspan><tspan dy="3.15">&#160;=&#160;0.8567,&#160;</tspan><tspan font-style="italic">P</tspan><tspan>&#160;&lt;&#160;0.01</tspan></text>
<text x="82.50" y="274.50" font-size="11" text-anchor="middle" fill="#000" ><tspan font-style="italic">T</tspan><tspan dy="2.42" font-style="italic" font-size="7.15">s</tspan><tspan dy="-2.42">(°C)</tspan></text>
<polyline points="196.15,173.87 196.79,174.36 197.42,174.87 198.06,175.39 198.70,175.94 199.34,176.51 199.98,177.10 200.62,177.70 201.26,178.33 201.89,178.97 202.53,179.63 203.17,180.32 203.81,181.02 204.45,181.74 205.09,182.48 205.73,183.24 206.37,184.02 207.00,184.82 207.64,185.63 208.28,186.47 208.92,187.33 209.56,188.20 210.20,189.09 210.84,190.01 211.47,190.94 212.11,191.89 212.75,192.86 213.39,193.85 214.03,194.86 214.67,195.89 215.31,196.94 215.95,198.01 216.58,199.10 217.22,200.20 217.86,201.33 218.50,202.47 219.14,203.63 219.78,204.82 220.42,206.02 221.05,207.24 221.69,208.48 222.33,209.74 222.97,211.02 223.61,212.32 224.25,213.64 224.89,214.97 225.53,216.33 226.16,217.70 226.80,219.10 227.44,220.51 228.08,221.94 228.72,223.40 229.36,224.87 230.00,226.36 230.63,227.87 231.27,229.40 231.91,230.95 232.55,232.51 233.19,234.10 233.83,235.71 234.47,237.33" fill="none" stroke="#1eeeff" stroke-width="1.35"/>
<path d="M197.00 170.55L199.05 172.60L197.00 174.65L194.95 172.60Z" fill="#10e6fc" stroke="#5a7cee" stroke-width="0.75"/>
<path d="M204.30 175.45L206.35 177.50L204.30 179.55L202.25 177.50Z" fill="#10e6fc" stroke="#5a7cee" stroke-width="0.75"/>
<path d="M212.60 188.25L214.65 190.30L212.60 192.35L210.55 190.30Z" fill="#10e6fc" stroke="#5a7cee" stroke-width="0.75"/>
<path d="M219.20 189.95L221.25 192.00L219.20 194.05L217.15 192.00Z" fill="#10e6fc" stroke="#5a7cee" stroke-width="0.75"/>
<path d="M208.50 203.45L210.55 205.50L208.50 207.55L206.45 205.50Z" fill="#10e6fc" stroke="#5a7cee" stroke-width="0.75"/>
<path d="M226.20 217.05L228.25 219.10L226.20 221.15L224.15 219.10Z" fill="#10e6fc" stroke="#5a7cee" stroke-width="0.75"/>
<path d="M230.50 234.75L232.55 236.80L230.50 238.85L228.45 236.80Z" fill="#10e6fc" stroke="#5a7cee" stroke-width="0.75"/>
<path d="M232.60 233.25L234.65 235.30L232.60 237.35L230.55 235.30Z" fill="#10e6fc" stroke="#5a7cee" stroke-width="0.75"/>
<path d="M234.60 231.55L236.65 233.60L234.60 235.65L232.55 233.60Z" fill="#10e6fc" stroke="#5a7cee" stroke-width="0.75"/>
<text x="173.80" y="164.60" font-size="9.2" text-anchor="start" fill="#000" ><tspan>(g)</tspan></text>
<text x="180.40" y="156.10" font-size="5.6" text-anchor="start" fill="#000" ><tspan font-style="italic">R</tspan><tspan dy="1.23" font-style="italic" font-size="3.64">s</tspan><tspan dy="-1.23">&#160;=&#160;-0.2553</tspan><tspan font-style="italic">M</tspan><tspan dy="1.23" font-style="italic" font-size="3.64">s</tspan><tspan dy="-3.36" font-size="3.64">2</tspan><tspan dy="2.13">&#160;+&#160;18.638</tspan><tspan font-style="italic">M</tspan><tspan dy="1.23" font-style="italic" font-size="3.64">s</tspan><tspan dy="-1.23">&#160;-&#160;320.17</tspan></text>
<text x="198.00" y="163.20" font-size="5.6" text-anchor="start" fill="#000" ><tspan font-style="italic">R</tspan><tspan dy="-2.13" font-size="3.64">2</tspan><tspan dy="2.13">&#160;=&#160;0.8972,&#160;</tspan><tspan font-style="italic">P</tspan><tspan>&#160;&lt;&#160;0.01</tspan></text>
<text x="218.50" y="273.30" font-size="11" text-anchor="middle" fill="#000" ><tspan font-style="italic">M</tspan><tspan dy="2.42" font-style="italic" font-size="7.15">s</tspan><tspan dy="-2.42">(%)</tspan></text>
<polyline points="314.40,242.66 315.66,240.09 316.92,237.57 318.19,235.11 319.45,232.71 320.71,230.36 321.97,228.06 323.24,225.82 324.50,223.63 325.76,221.50 327.02,219.42 328.29,217.40 329.55,215.44 330.81,213.52 332.07,211.67 333.34,209.87 334.60,208.12 335.86,206.43 337.12,204.79 338.39,203.21 339.65,201.68 340.91,200.21 342.17,198.79 343.44,197.43 344.70,196.12 345.96,194.87 347.22,193.67 348.49,192.53 349.75,191.44 351.01,190.41 352.27,189.43 353.54,188.51 354.80,187.64 356.06,186.83 357.32,186.07 358.59,185.37 359.85,184.72 361.11,184.13 362.37,183.59 363.64,183.11 364.90,182.68 366.16,182.31 367.42,181.99 368.69,181.73 369.95,181.52 371.21,181.36 372.47,181.27 373.74,181.22 375.00,181.23 376.26,181.30 377.52,181.42 378.79,181.60 380.05,181.83 381.31,182.12 382.57,182.46 383.84,182.85 385.10,183.30 386.36,183.81 387.62,184.37 388.89,184.99 390.15,185.66" fill="none" stroke="#1eeeff" stroke-width="1.35"/>
<path d="M315.40 233.95L317.45 236.00L315.40 238.05L313.35 236.00Z" fill="#10e6fc" stroke="#5a7cee" stroke-width="0.75"/>
<path d="M317.40 230.85L319.45 232.90L317.40 234.95L315.35 232.90Z" fill="#10e6fc" stroke="#5a7cee" stroke-width="0.75"/>
<path d="M318.80 232.25L320.85 234.30L318.80 236.35L316.75 234.30Z" fill="#10e6fc" stroke="#5a7cee" stroke-width="0.75"/>
<path d="M320.90 231.95L322.95 234.00L320.90 236.05L318.85 234.00Z" fill="#10e6fc" stroke="#5a7cee" stroke-width="0.75"/>
<path d="M324.70 216.65L326.75 218.70L324.70 220.75L322.65 218.70Z" fill="#10e6fc" stroke="#5a7cee" stroke-width="0.75"/>
<path d="M349.70 189.65L351.75 191.70L349.70 193.75L347.65 191.70Z" fill="#10e6fc" stroke="#5a7cee" stroke-width="0.75"/>
<path d="M349.70 203.15L351.75 205.20L349.70 207.25L347.65 205.20Z" fill="#10e6fc" stroke="#5a7cee" stroke-width="0.75"/>
<path d="M362.80 174.75L364.85 176.80L362.80 178.85L360.75 176.80Z" fill="#10e6fc" stroke="#5a7cee" stroke-width="0.75"/>
<path d="M366.00 169.85L368.05 171.90L366.00 173.95L363.95 171.90Z" fill="#10e6fc" stroke="#5a7cee" stroke-width="0.75"/>
<path d="M389.50 187.55L391.55 189.60L389.50 191.65L387.45 189.60Z" fill="#10e6fc" stroke="#5a7cee" stroke-width="0.75"/>
<text x="310.60" y="164.30" font-size="9.0" text-anchor="start" fill="#000" ><tspan>(h)</tspan></text>
<text x="312.80" y="155.20" font-size="5.6" text-anchor="start" fill="#000" ><tspan font-style="italic">R</tspan><tspan dy="1.23" font-style="italic" font-size="3.64">s</tspan><tspan dy="-1.23">&#160;=&#160;-2.5425</tspan><tspan font-style="italic">LAI</tspan><tspan dy="-2.13" font-size="3.64">2</tspan><tspan dy="2.13">&#160;+&#160;14.634</tspan><tspan font-style="italic">LAI</tspan><tspan>&#160;-&#160;4.6982</tspan></text>
<text x="333.00" y="162.00" font-size="5.6" text-anchor="start" fill="#000" ><tspan font-style="italic">R</tspan><tspan dy="-2.13" font-size="3.64">2</tspan><tspan dy="2.13">&#160;=&#160;0.9267,&#160;</tspan><tspan font-style="italic">P</tspan><tspan>&#160;&lt;&#160;0.01</tspan></text>
<text x="353.45" y="273.30" font-size="11" text-anchor="middle" fill="#000" ><tspan font-style="italic">LAI</tspan></text>
<polyline points="457.05,165.87 458.02,167.83 458.99,169.76 459.97,171.66 460.94,173.53 461.91,175.37 462.89,177.17 463.86,178.94 464.83,180.69 465.80,182.39 466.78,184.07 467.75,185.72 468.72,187.33 469.70,188.91 470.67,190.46 471.64,191.98 472.62,193.46 473.59,194.92 474.56,196.34 475.53,197.73 476.51,199.08 477.48,200.41 478.45,201.70 479.43,202.97 480.40,204.20 481.37,205.39 482.35,206.56 483.32,207.69 484.29,208.80 485.26,209.87 486.24,210.91 487.21,211.91 488.18,212.89 489.16,213.83 490.13,214.74 491.10,215.62 492.08,216.47 493.05,217.28 494.02,218.07 495.00,218.82 495.97,219.54 496.94,220.22 497.91,220.88 498.89,221.50 499.86,222.09 500.83,222.65 501.81,223.18 502.78,223.68 503.75,224.14 504.73,224.57 505.70,224.97 506.67,225.34 507.64,225.68 508.62,225.98 509.59,226.26 510.56,226.50 511.54,226.71 512.51,226.88 513.48,227.03 514.46,227.14 515.43,227.22" fill="none" stroke="#1eeeff" stroke-width="1.35"/>
<path d="M456.90 174.75L458.95 176.80L456.90 178.85L454.85 176.80Z" fill="#10e6fc" stroke="#5a7cee" stroke-width="0.75"/>
<path d="M468.30 169.55L470.35 171.60L468.30 173.65L466.25 171.60Z" fill="#10e6fc" stroke="#5a7cee" stroke-width="0.75"/>
<path d="M474.90 189.25L476.95 191.30L474.90 193.35L472.85 191.30Z" fill="#10e6fc" stroke="#5a7cee" stroke-width="0.75"/>
<path d="M480.10 187.15L482.15 189.20L480.10 191.25L478.05 189.20Z" fill="#10e6fc" stroke="#5a7cee" stroke-width="0.75"/>
<path d="M497.10 216.35L499.15 218.40L497.10 220.45L495.05 218.40Z" fill="#10e6fc" stroke="#5a7cee" stroke-width="0.75"/>
<path d="M512.70 202.45L514.75 204.50L512.70 206.55L510.65 204.50Z" fill="#10e6fc" stroke="#5a7cee" stroke-width="0.75"/>
<path d="M484.30 232.25L486.35 234.30L484.30 236.35L482.25 234.30Z" fill="#10e6fc" stroke="#5a7cee" stroke-width="0.75"/>
<path d="M503.70 231.25L505.75 233.30L503.70 235.35L501.65 233.30Z" fill="#10e6fc" stroke="#5a7cee" stroke-width="0.75"/>
<path d="M509.90 230.15L511.95 232.20L509.90 234.25L507.85 232.20Z" fill="#10e6fc" stroke="#5a7cee" stroke-width="0.75"/>
<path d="M515.50 233.65L517.55 235.70L515.50 237.75L513.45 235.70Z" fill="#10e6fc" stroke="#5a7cee" stroke-width="0.75"/>
<text x="445.20" y="157.00" font-size="9" text-anchor="start" fill="#000" ><tspan>(i)</tspan></text>
<text x="443.80" y="161.80" font-size="5.6" text-anchor="start" fill="#000" ><tspan font-style="italic">R</tspan><tspan dy="1.23" font-style="italic" font-size="3.64">s</tspan><tspan dy="-1.23">=&#160;</tspan><tspan font-style="italic">65.369GWD</tspan><tspan dy="-2.13" font-size="3.64">2</tspan><tspan dy="2.13">&#160;+&#160;22.683</tspan><tspan font-style="italic">GWD</tspan><tspan>&#160;+&#160;5.9591</tspan></text>
<text x="466.80" y="168.20" font-size="5.6" text-anchor="start" fill="#000" ><tspan font-style="italic">R</tspan><tspan dy="-2.13" font-size="3.64">2</tspan><tspan dy="2.13">&#160;=&#160;0.6655,&#160;</tspan><tspan font-style="italic">P</tspan><tspan>&#160;&lt;&#160;0.05</tspan></text>
<text x="490.30" y="273.60" font-size="11" text-anchor="middle" fill="#000" ><tspan font-style="italic">GWD</tspan><tspan>(m)</tspan></text>
<polyline points="586.46,243.19 620.81,204.86 655.16,166.52" fill="none" stroke="#1eeeff" stroke-width="1.35"/>
<path d="M595.20 233.65L597.25 235.70L595.20 237.75L593.15 235.70Z" fill="#10e6fc" stroke="#5a7cee" stroke-width="0.75"/>
<path d="M597.30 231.55L599.35 233.60L597.30 235.65L595.25 233.60Z" fill="#10e6fc" stroke="#5a7cee" stroke-width="0.75"/>
<path d="M599.00 234.65L601.05 236.70L599.00 238.75L596.95 236.70Z" fill="#10e6fc" stroke="#5a7cee" stroke-width="0.75"/>
<path d="M607.00 232.25L609.05 234.30L607.00 236.35L604.95 234.30Z" fill="#10e6fc" stroke="#5a7cee" stroke-width="0.75"/>
<path d="M622.90 217.05L624.95 219.10L622.90 221.15L620.85 219.10Z" fill="#10e6fc" stroke="#5a7cee" stroke-width="0.75"/>
<path d="M626.40 203.45L628.45 205.50L626.40 207.55L624.35 205.50Z" fill="#10e6fc" stroke="#5a7cee" stroke-width="0.75"/>
<path d="M609.00 187.55L611.05 189.60L609.00 191.65L606.95 189.60Z" fill="#10e6fc" stroke="#5a7cee" stroke-width="0.75"/>
<path d="M614.90 189.65L616.95 191.70L614.90 193.75L612.85 191.70Z" fill="#10e6fc" stroke="#5a7cee" stroke-width="0.75"/>
<path d="M642.00 174.75L644.05 176.80L642.00 178.85L639.95 176.80Z" fill="#10e6fc" stroke="#5a7cee" stroke-width="0.75"/>
<path d="M651.30 169.85L653.35 171.90L651.30 173.95L649.25 171.90Z" fill="#10e6fc" stroke="#5a7cee" stroke-width="0.75"/>
<text x="585.60" y="159.60" font-size="8.6" text-anchor="start" fill="#000" ><tspan>(j)</tspan></text>
<text x="598.20" y="155.70" font-size="8.3" text-anchor="start" fill="#000" ><tspan font-style="italic">R</tspan><tspan dy="1.83" font-style="italic" font-size="5.40">s</tspan><tspan dy="-1.83">&#160;=&#160;0.716</tspan><tspan font-style="italic">R</tspan><tspan dy="1.83" font-style="italic" font-size="5.40">eco</tspan><tspan dy="-1.83">&#160;-&#160;1.5518</tspan></text>
<text x="601.40" y="165.50" font-size="8.3" text-anchor="start" fill="#000" ><tspan>R</tspan><tspan dy="-3.15" font-size="5.40">2</tspan><tspan dy="3.15">&#160;=&#160;0.6981,&#160;</tspan><tspan font-style="italic">P</tspan><tspan>&#160;&lt;&#160;0.01</tspan></text>
<text x="630.50" y="273.30" font-size="11" text-anchor="middle" fill="#000" ><tspan font-style="italic">R</tspan><tspan dy="2.42" font-style="italic" font-size="7.15">eco</tspan><tspan dy="-2.42">(μmol&#160;m</tspan><tspan dy="-4.18" font-size="7.15">-2</tspan><tspan dy="4.18">&#160;s</tspan><tspan dy="-4.18" font-size="7.15">-1</tspan><tspan dy="4.18">)</tspan></text>
</svg></body></html>
